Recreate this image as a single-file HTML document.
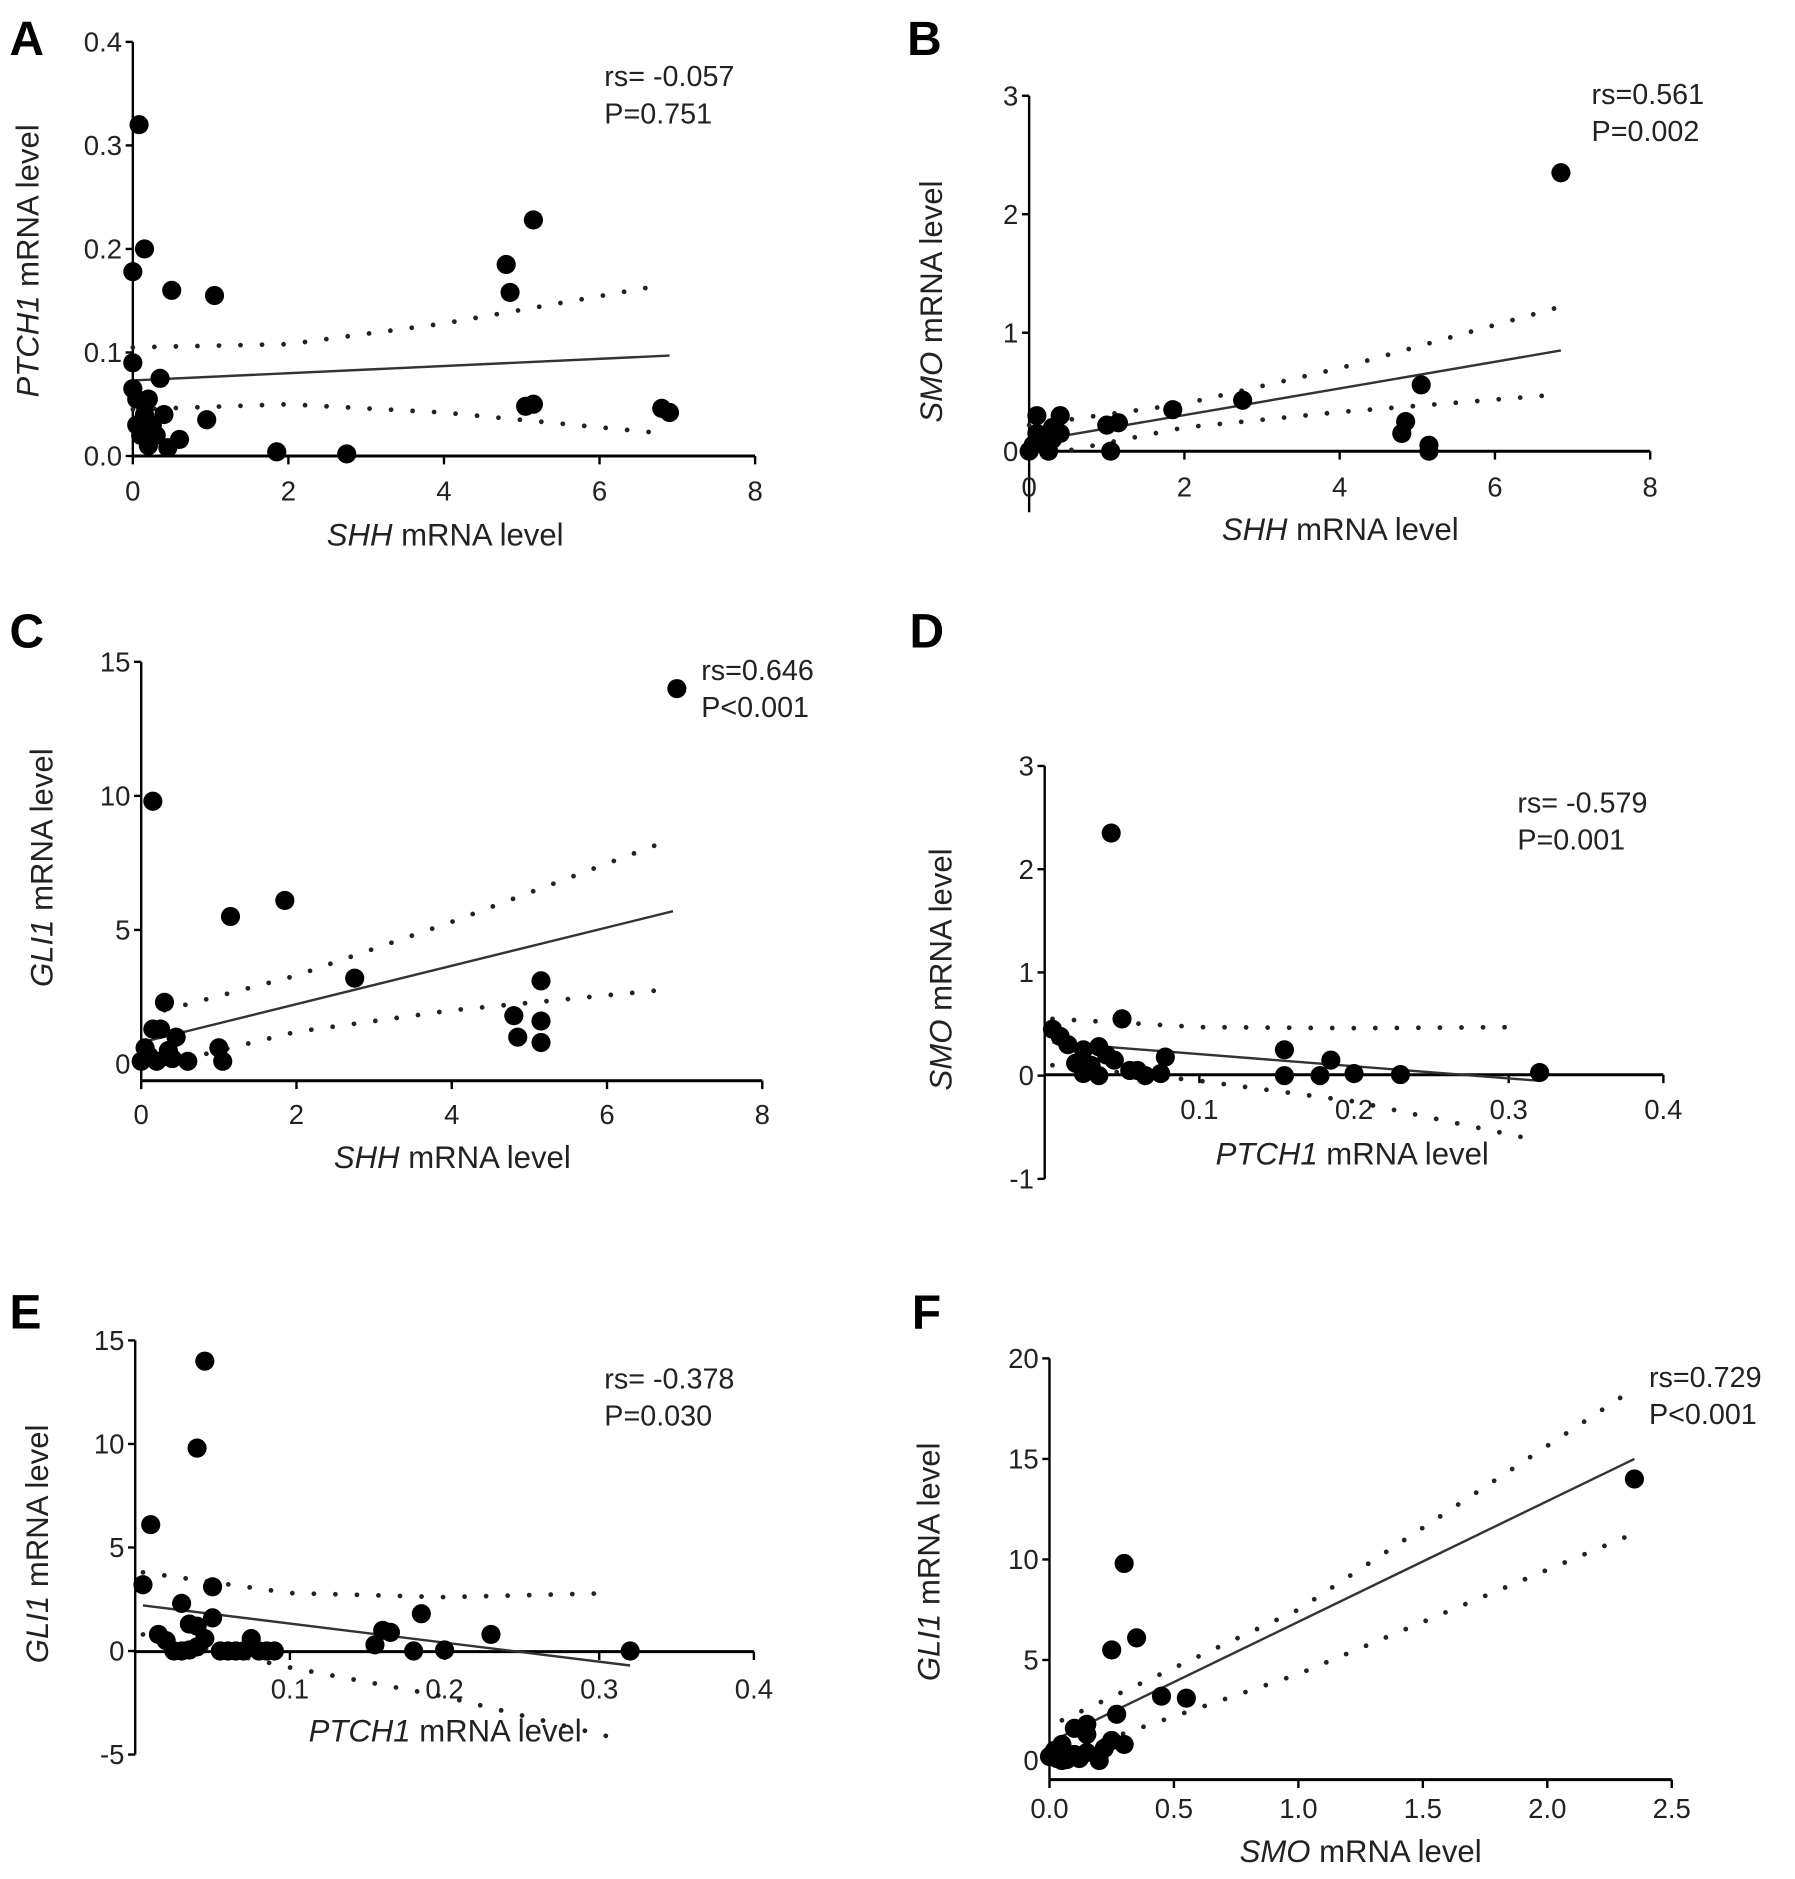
<!DOCTYPE html>
<html><head><meta charset="utf-8"><style>
html,body{margin:0;padding:0;background:#fff;}
svg{display:block;font-family:"Liberation Sans",sans-serif;}
</style></head><body>
<svg id="fig" width="1795" height="1879" viewBox="0 0 1500 1570" preserveAspectRatio="none" xmlns="http://www.w3.org/2000/svg"></svg>
<script>
// Panel A: SHH vs PTCH1
const aX=[0.08,0.15,0,0.5,1.05,0,0.35,0,0.05,0.15,0.2,0.4,0.25,0.1,0.3,0.6,0.45,0.95,1.85,2.75,4.8,4.85,5.15,5.05,5.15,6.8,6.9,0.2,0.05,0.15];
const aY=[0.32,0.2,0.178,0.16,0.155,0.09,0.075,0.065,0.055,0.05,0.055,0.04,0.03,0.02,0.02,0.016,0.008,0.035,0.004,0.002,0.185,0.158,0.228,0.048,0.05,0.046,0.042,0.01,0.03,0.04];
const aFit=[[0,0.073],[6.9,0.097]];
const aUp=[[0,0.105],[2,0.108],[4,0.128],[6.8,0.165]];
const aLo=[[0,0.045],[2,0.05],[4,0.042],[6.8,0.022]];
// Panel B: SHH vs SMO
const bX=[6.85,0.1,0.4,0.3,1.0,1.15,1.85,2.75,5.05,4.8,4.85,5.15,5.15,1.05,0,0.05,0.15,0.2,0.3,0.1,0.25,0.4];
const bY=[2.35,0.3,0.3,0.2,0.22,0.24,0.35,0.43,0.56,0.15,0.25,0.05,0.0,0.0,0,0.05,0.1,0.05,0.1,0.15,0.0,0.15];
const bFit=[[0,0.08],[6.85,0.85]];
const bUp=[[0,0.22],[2,0.4],[4,0.7],[6.85,1.22]];
const bLo=[[0,-0.06],[2,0.2],[4,0.33],[6.85,0.48]];
// Panel C: SHH vs GLI1
const cX=[6.9,0.15,1.85,1.15,2.75,5.15,4.8,5.15,4.85,5.15,0.3,0.15,0.25,0.45,1.0,1.05,0.6,0,0.1,0.2,0.35,0.4,0.05];
const cY=[14,9.8,6.1,5.5,3.2,3.1,1.8,1.6,1.0,0.8,2.3,1.3,1.3,1.0,0.6,0.1,0.1,0.1,0.3,0.1,0.5,0.2,0.6];
const cFit=[[0,0.8],[6.85,5.7]];
const cUp=[[0.3,2.0],[2,3.3],[4,5.3],[6.85,8.4]];
const cLo=[[0.3,0.0],[2,1.2],[4,2.0],[6.85,2.8]];
// Panel D: PTCH1 vs SMO
const dX=[0.043,0.05,0.005,0.01,0.015,0.025,0.035,0.04,0.02,0.03,0.025,0.045,0.055,0.06,0.065,0.075,0.078,0.155,0.155,0.178,0.185,0.2,0.23,0.32,0.035];
const dY=[2.35,0.55,0.45,0.38,0.3,0.25,0.28,0.2,0.12,0.1,0.02,0.15,0.05,0.05,0.0,0.02,0.18,0.25,0.0,0.0,0.15,0.02,0.01,0.03,0.0];
const dFit=[[0.005,0.32],[0.32,-0.05]];
const dUp=[[0.005,0.55],[0.1,0.47],[0.2,0.46],[0.31,0.47]];
const dLo=[[0.005,0.1],[0.1,-0.05],[0.2,-0.25],[0.31,-0.6]];
// Panel E: PTCH1 vs GLI1
const eX=[0.045,0.04,0.01,0.005,0.05,0.03,0.05,0.035,0.04,0.015,0.02,0.025,0.03,0.04,0.045,0.055,0.06,0.065,0.07,0.075,0.08,0.085,0.09,0.155,0.16,0.165,0.185,0.18,0.2,0.23,0.32,0.035];
const eY=[14,9.8,6.1,3.2,3.1,2.3,1.6,1.3,1.2,0.8,0.5,0,0,0.2,0.6,0,0,0,0,0.6,0,0,0,0.3,1.0,0.9,1.8,0,0.05,0.8,0,0.05];
const eFit=[[0.005,2.2],[0.32,-0.7]];
const eUp=[[0.005,3.8],[0.1,2.8],[0.2,2.6],[0.31,2.8]];
const eLo=[[0.005,0.8],[0.1,-0.8],[0.2,-2.2],[0.31,-4.2]];
// Panel F: SMO vs GLI1
const fX=[2.35,0.3,0.35,0.25,0.45,0.55,0.27,0.15,0.1,0.3,0.25,0.15,0.05,0,0.02,0.05,0.1,0.12,0.15,0.2,0.22,0.07,0.03];
const fY=[14,9.8,6.1,5.5,3.2,3.1,2.3,1.8,1.6,0.8,1.0,1.3,0.8,0.2,0.5,0,0.3,0.1,0.4,0,0.6,0.05,0.1];
const fFit=[[0.05,1.2],[2.35,15]];
const fUp=[[0.05,2.0],[1,7.5],[2.35,18.5]];
const fLo=[[0.05,0.3],[1,4.3],[2.35,11.3]];

const NS="http://www.w3.org/2000/svg";
const svg=document.getElementById('fig');
function mk(tag,attrs,parent){const e=document.createElementNS(NS,tag);for(const k in attrs)e.setAttribute(k,attrs[k]);(parent||svg).appendChild(e);return e;}

function panel(p){
  const g=mk('g',{});
  
  
  const sx=v=>p.x0+(v-p.xmin)/(p.xmax-p.xmin)*(p.x1-p.x0);
  const sy=v=>p.y0-(v-p.ymin)/(p.ymax-p.ymin)*(p.y0-p.y1);
  const lt=mk('text',{x:p.lx,y:p.ly,'font-size':40,'font-weight':'bold'},g);lt.textContent=p.id;
  
  
  const ya=mk('line',{x1:p.x0,x2:p.x0,y1:sy(p.ymax),y2:p.yAxisBottom,stroke:'#000','stroke-width':2},g);
  
  
  p.yt.forEach((v,i)=>{
    mk('line',{x1:p.x0-6,x2:p.x0,y1:sy(v),y2:sy(v),stroke:'#000','stroke-width':2},g);
    const t=mk('text',{x:p.x0-9,y:sy(v)+8,'font-size':23,'text-anchor':'end',fill:'#222'},g);
    t.textContent=p.ytl[i];
    
    
  });
  const xa=mk('line',{x1:p.x0,x2:sx(p.xmax),y1:p.xAxisY,y2:p.xAxisY,stroke:'#000','stroke-width':2.5},g);
  
  
  p.xt.forEach((v,i)=>{
    mk('line',{x1:sx(v),x2:sx(v),y1:p.xAxisY,y2:p.xAxisY+7,stroke:'#000','stroke-width':2},g);
    const t=mk('text',{x:sx(v),y:p.xAxisY+p.xtOff,'font-size':23,'text-anchor':'middle',fill:'#222'},g);
    t.textContent=p.xtl[i];
    
    
  });
  const xt=mk('text',{x:p.xtx,y:p.xty,'font-size':26,'text-anchor':'middle',fill:'#222'},g);
  xt.innerHTML='<tspan font-style="italic">'+p.xname+'</tspan> mRNA level';
  
  
  const yt=mk('text',{x:0,y:0,'font-size':26,'text-anchor':'middle',fill:'#222',transform:'translate('+p.ytx+','+p.yty+') rotate(-90)'},g);
  yt.innerHTML='<tspan font-style="italic">'+p.yname+'</tspan> mRNA level';
  
  
  const r1=mk('text',{x:p.rx,y:p.ry,'font-size':24,fill:'#222'},g);r1.textContent=p.rs;
  
  
  const r2=mk('text',{x:p.rx,y:p.ry+31,'font-size':24,fill:'#222'},g);r2.textContent=p.pv;
  
  
  const fl=mk('line',{x1:sx(p.fit[0][0]),y1:sy(p.fit[0][1]),x2:sx(p.fit[1][0]),y2:sy(p.fit[1][1]),stroke:'#333','stroke-width':2},g);
  
  
  [p.up,p.lo].forEach((arr,k)=>{
    const d=arr.map((q,i)=>(i?'L':'M')+sx(q[0]).toFixed(1)+' '+sy(q[1]).toFixed(1)).join(' ');
    const pl=mk('path',{d:d,fill:'none',stroke:'#222','stroke-width':4,'stroke-dasharray':'0 18','stroke-linecap':'round'},g);
    
    
  });
  p.xs.forEach((v,i)=>{
    const c=mk('circle',{cx:sx(v),cy:sy(p.ys[i]),r:8,fill:'#000'},g);
    
    
  });
}

panel({id:'A',lx:8,ly:46,x0:111,x1:631,xmin:0,xmax:8,y0:381,y1:35,ymin:0,ymax:0.4,yAxisBottom:381,xAxisY:381,xtOff:37,
  yt:[0,0.1,0.2,0.3,0.4],ytl:['0.0','0.1','0.2','0.3','0.4'],xt:[0,2,4,6,8],xtl:['0','2','4','6','8'],
  xname:'SHH',yname:'PTCH1',xtx:372,xty:456,ytx:32,yty:218,rx:505,ry:72,rs:'rs= -0.057',pv:'P=0.751',
  xs:aX,ys:aY,fit:aFit,up:aUp,lo:aLo});
panel({id:'B',lx:758,ly:46,x0:860,x1:1379,xmin:0,xmax:8,y0:377,y1:80,ymin:0,ymax:3,yAxisBottom:428,xAxisY:377,xtOff:38,
  yt:[0,1,2,3],ytl:['0','1','2','3'],xt:[0,2,4,6,8],xtl:['0','2','4','6','8'],
  xname:'SHH',yname:'SMO',xtx:1120,xty:451,ytx:787,yty:252,rx:1330,ry:87,rs:'rs=0.561',pv:'P=0.002',
  xs:bX,ys:bY,fit:bFit,up:bUp,lo:bLo});
panel({id:'C',lx:8,ly:541,x0:118,x1:637,xmin:0,xmax:8,y0:889,y1:553,ymin:0,ymax:15,yAxisBottom:903,xAxisY:903,xtOff:36,
  yt:[0,5,10,15],ytl:['0','5','10','15'],xt:[0,2,4,6,8],xtl:['0','2','4','6','8'],
  xname:'SHH',yname:'GLI1',xtx:378,xty:976,ytx:44,yty:725,rx:586,ry:568,rs:'rs=0.646',pv:'P<0.001',
  xs:cX,ys:cY,fit:cFit,up:cUp,lo:cLo});
panel({id:'D',lx:760,ly:541,x0:873,x1:1390,xmin:0,xmax:0.4,y0:985,y1:640,ymin:-1,ymax:3,yAxisBottom:985,xAxisY:898,xtOff:37,
  yt:[-1,0,1,2,3],ytl:['-1','0','1','2','3'],xt:[0.1,0.2,0.3,0.4],xtl:['0.1','0.2','0.3','0.4'],
  xname:'PTCH1',yname:'SMO',xtx:1130,xty:973,ytx:795,yty:810,rx:1268,ry:679,rs:'rs= -0.579',pv:'P=0.001',
  xs:dX,ys:dY,fit:dFit,up:dUp,lo:dLo});
panel({id:'E',lx:8,ly:1110,x0:113,x1:630,xmin:0,xmax:0.4,y0:1466,y1:1120,ymin:-5,ymax:15,yAxisBottom:1466,xAxisY:1380,xtOff:39,
  yt:[-5,0,5,10,15],ytl:['-5','0','5','10','15'],xt:[0.1,0.2,0.3,0.4],xtl:['0.1','0.2','0.3','0.4'],
  xname:'PTCH1',yname:'GLI1',xtx:372,xty:1455,ytx:40,yty:1290,rx:505,ry:1160,rs:'rs= -0.378',pv:'P=0.030',
  xs:eX,ys:eY,fit:eFit,up:eUp,lo:eLo});
panel({id:'F',lx:762,ly:1110,x0:877,x1:1397,xmin:0,xmax:2.5,y0:1471,y1:1135,ymin:0,ymax:20,yAxisBottom:1487,xAxisY:1487,xtOff:32,
  yt:[0,5,10,15,20],ytl:['0','5','10','15','20'],xt:[0,0.5,1,1.5,2,2.5],xtl:['0.0','0.5','1.0','1.5','2.0','2.5'],
  xname:'SMO',yname:'GLI1',xtx:1137,xty:1556,ytx:785,yty:1305,rx:1378,ry:1159,rs:'rs=0.729',pv:'P<0.001',
  xs:fX,ys:fY,fit:fFit,up:fUp,lo:fLo});
</script>
</body></html>
